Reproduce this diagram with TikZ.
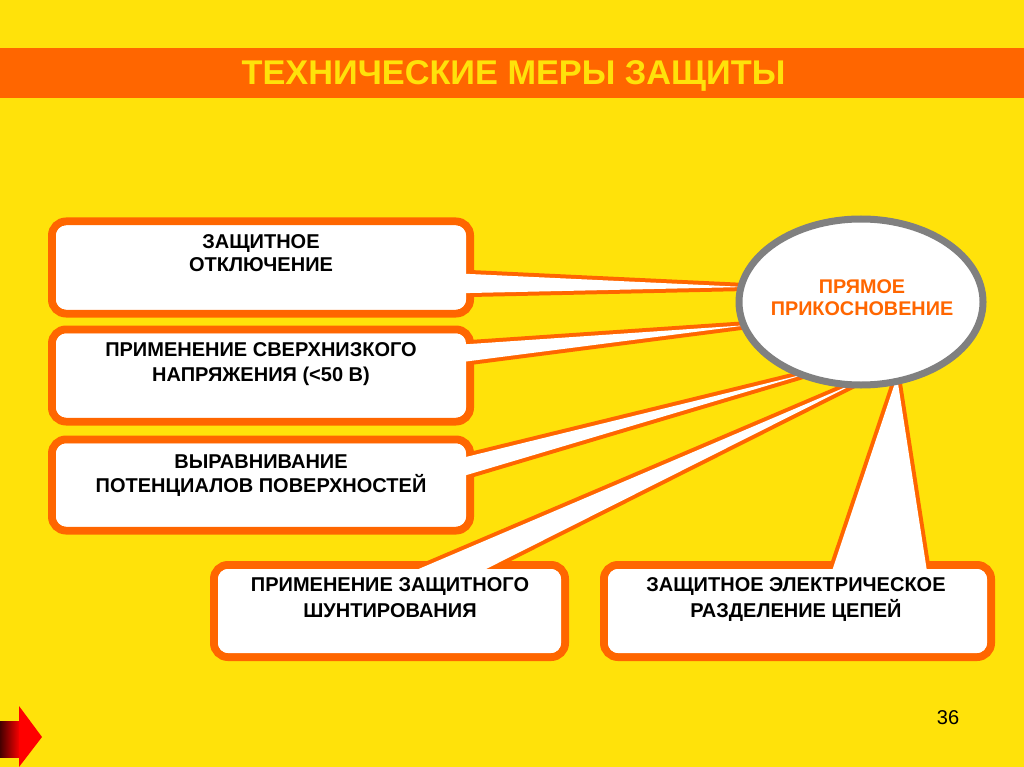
\documentclass[tikz,border=0pt]{standalone}
\usepackage{fontspec}
\setmainfont{Liberation Sans}
\usetikzlibrary{shapes.geometric,calc}
\definecolor{bgyellow}{RGB}{255,226,10}
\definecolor{orng}{RGB}{255,102,0}
\definecolor{ellgray}{RGB}{128,128,128}
\definecolor{darkred}{RGB}{70,0,0}
\definecolor{brightred}{RGB}{255,0,0}
\begin{document}
\begin{tikzpicture}[x=1pt,y=-1pt,
  cbox/.style={rectangle, rounded corners=14pt, draw=orng, line width=8pt, fill=white, inner sep=0pt, outer sep=0pt},
  wedgeline/.style={draw=orng, line width=8pt, line join=round},
  btext/.style={font=\fontsize{20}{#1}\selectfont\bfseries, align=center, text depth=0pt, inner sep=0pt},
  etext/.style={font=\fontsize{19.8}{22}\selectfont\bfseries, text=orng, align=center, text depth=0pt, inner sep=0pt},
  titletext/.style={font=\fontsize{34.3}{40}\selectfont\bfseries, text=bgyellow, inner sep=0pt},
  refill/.style={fill=white, rounded corners=10pt}
]
% background
\fill[bgyellow] (0,0) rectangle (1024,767);
\useasboundingbox (0,0) rectangle (1024,767);
% title bar
\fill[orng] (0,48) rectangle (1024,98);
\node[titletext] (title) at (513.5,76) {ТЕХНИЧЕСКИЕ МЕРЫ ЗАЩИТЫ};

% tips (under the ellipse)
\coordinate (t1) at (746,287);
\coordinate (t2) at (749,325);
\coordinate (t3) at (813,372);
\coordinate (t4) at (860,381);
\coordinate (t5) at (897,377);

% callout 1
\node[cbox, minimum width=418pt, minimum height=92pt] (b1) at (261,267.5) {};
\coordinate (a1) at (470,274); \coordinate (c1) at (470,293);
\draw[wedgeline] (t1) -- ($(a1)!-30pt!(t1)$) -- ($(c1)!-30pt!(t1)$) -- cycle;
\fill[white] (t1) -- ($(a1)!-30pt!(t1)$) -- ($(c1)!-30pt!(t1)$) -- cycle;
\fill[refill] ([shift={(4pt,-4pt)}]b1.north west) rectangle ([shift={(-4pt,4pt)}]b1.south east);

% callout 2
\node[cbox, minimum width=418pt, minimum height=92pt] (b2) at (261,375.5) {};
\coordinate (a2) at (470,344); \coordinate (c2) at (470,361);
\draw[wedgeline] (t2) -- ($(a2)!-30pt!(t2)$) -- ($(c2)!-30pt!(t2)$) -- cycle;
\fill[white] (t2) -- ($(a2)!-30pt!(t2)$) -- ($(c2)!-30pt!(t2)$) -- cycle;
\fill[refill] ([shift={(4pt,-4pt)}]b2.north west) rectangle ([shift={(-4pt,4pt)}]b2.south east);

% callout 3
\node[cbox, minimum width=418pt, minimum height=91pt] (b3) at (261,485) {};
\coordinate (a3) at (470,456); \coordinate (c3) at (470,474);
\draw[wedgeline] (t3) -- ($(a3)!-30pt!(t3)$) -- ($(c3)!-30pt!(t3)$) -- cycle;
\fill[white] (t3) -- ($(a3)!-30pt!(t3)$) -- ($(c3)!-30pt!(t3)$) -- cycle;
\fill[refill] ([shift={(4pt,-4pt)}]b3.north west) rectangle ([shift={(-4pt,4pt)}]b3.south east);

% callout 4
\node[cbox, minimum width=351pt, minimum height=92pt] (b4) at (389.5,611) {};
\coordinate (a4) at (428,565); \coordinate (c4) at (494,565);
\draw[wedgeline] (t4) -- ($(a4)!-30pt!(t4)$) -- ($(c4)!-30pt!(t4)$) -- cycle;
\fill[white] (t4) -- ($(a4)!-30pt!(t4)$) -- ($(c4)!-30pt!(t4)$) -- cycle;
\fill[refill] ([shift={(4pt,-4pt)}]b4.north west) rectangle ([shift={(-4pt,4pt)}]b4.south east);

% callout 5
\node[cbox, minimum width=387pt, minimum height=92pt] (b5) at (797.5,611) {};
\coordinate (a5) at (834,565); \coordinate (c5) at (926,565);
\draw[wedgeline] (t5) -- ($(a5)!-30pt!(t5)$) -- ($(c5)!-30pt!(t5)$) -- cycle;
\fill[white] (t5) -- ($(a5)!-30pt!(t5)$) -- ($(c5)!-30pt!(t5)$) -- cycle;
\fill[refill] ([shift={(4pt,-4pt)}]b5.north west) rectangle ([shift={(-4pt,4pt)}]b5.south east);

% ellipse
\node[ellipse, draw=ellgray, line width=7pt, fill=white, minimum width=244pt, minimum height=166pt, inner sep=0pt] (ell) at (861,302) {};
\node[etext] (ellt) at (862,298) {ПРЯМОЕ\\ПРИКОСНОВЕНИЕ};

% box texts
\node[btext=23.3] (b1t) at (261,253.3) {ЗАЩИТНОЕ\\ОТКЛЮЧЕНИЕ};
\node[btext=25] (b2t) at (261,362.5) {ПРИМЕНЕНИЕ СВЕРХНИЗКОГО\\НАПРЯЖЕНИЯ (<50 В)};
\node[btext=23.5] (b3t) at (261,473.5) {ВЫРАВНИВАНИЕ\\ПОТЕНЦИАЛОВ ПОВЕРХНОСТЕЙ};
\node[btext=26] (b4t) at (390,598) {ПРИМЕНЕНИЕ ЗАЩИТНОГО\\ШУНТИРОВАНИЯ};
\node[btext=26] (b5t) at (796,598) {ЗАЩИТНОЕ ЭЛЕКТРИЧЕСКОЕ\\РАЗДЕЛЕНИЕ ЦЕПЕЙ};

% page number
\node[font=\fontsize{20}{24}\selectfont, inner sep=0pt] (pnum) at (948,718) {36};

% navigation arrow
\shade[left color=darkred, right color=brightred] (0,721) rectangle (20,757);
\fill[brightred] (19,706) -- (42,737) -- (19,767) -- cycle;
\end{tikzpicture}
\end{document}
